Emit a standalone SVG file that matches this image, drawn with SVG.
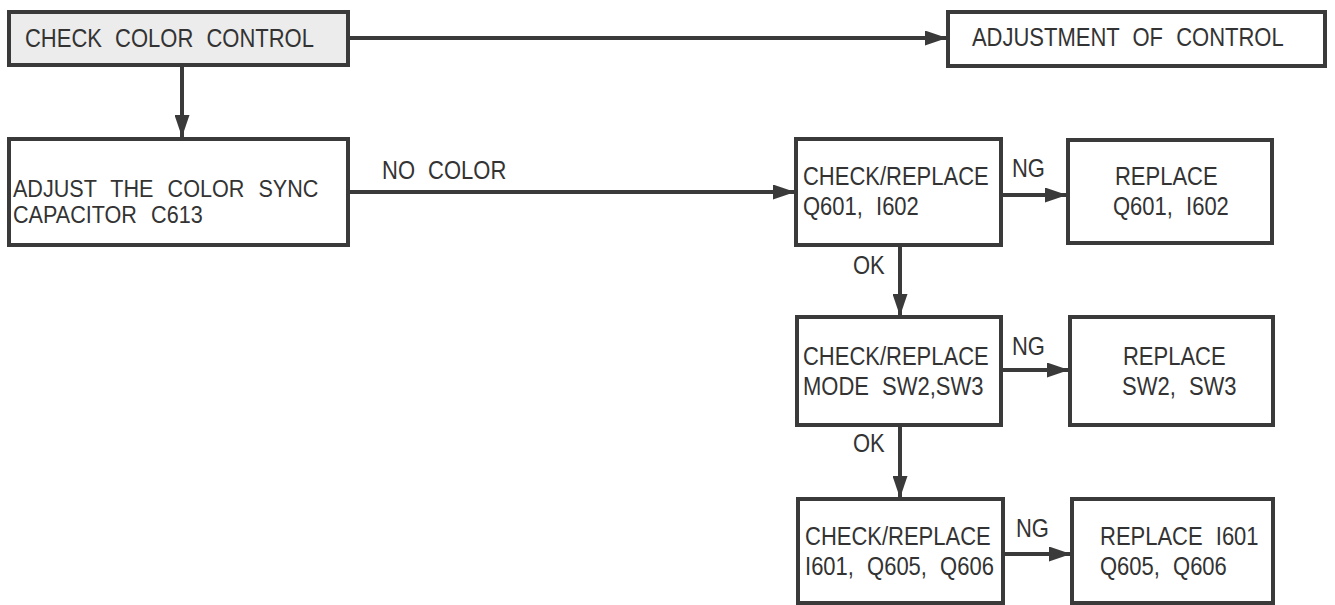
<svg xmlns="http://www.w3.org/2000/svg" width="1335" height="605" viewBox="0 0 1335 605">
<style>
.box{fill:#fff;stroke:#3a3a3a;stroke-width:4}
.t{font-family:"Liberation Sans",Arial,sans-serif;font-size:25px;fill:#333;word-spacing:8px}
.s{font-size:24px;word-spacing:9px}
.c{fill:none;stroke:#3a3a3a;stroke-width:4}
</style>
<defs>
<marker id="ah" viewBox="0 0 22 15" refX="22" refY="7.5" markerWidth="22" markerHeight="15" markerUnits="userSpaceOnUse" orient="auto">
<path d="M0,0 L22,7.5 L0,15 Z" fill="#3a3a3a"/>
</marker>
</defs>
<rect width="1335" height="605" fill="#fff"/>
<g id="connectors">
<line class="c" x1="348" y1="38" x2="947" y2="38" marker-end="url(#ah)"/>
<line class="c" x1="182" y1="65" x2="182" y2="137" marker-end="url(#ah)"/>
<line class="c" x1="348" y1="192" x2="795" y2="192" marker-end="url(#ah)"/>
<line class="c" x1="1001" y1="195" x2="1067" y2="195" marker-end="url(#ah)"/>
<line class="c" x1="900" y1="245" x2="900" y2="316" marker-end="url(#ah)"/>
<line class="c" x1="1001" y1="370" x2="1069" y2="370" marker-end="url(#ah)"/>
<line class="c" x1="900" y1="425" x2="900" y2="498" marker-end="url(#ah)"/>
<line class="c" x1="1003" y1="554" x2="1071" y2="554" marker-end="url(#ah)"/>
<g transform="scale(0.88,1)">
<text class="t" x="434.1" y="179">NO COLOR</text>
<text class="t" x="1150" y="177">NG</text>
<text class="t" x="969.3" y="274">OK</text>
<text class="t" x="1150" y="355">NG</text>
<text class="t" x="969.3" y="452">OK</text>
<text class="t" x="1154.5" y="537">NG</text>
</g>
</g>
<g id="check-color-control">
<rect class="box" x="9" y="12" width="339" height="53" style="fill:#ececec"/>
<text class="t" transform="scale(0.88,1)" x="28.4" y="47">CHECK COLOR CONTROL</text>
</g>
<g id="adjustment-of-control">
<rect class="box" x="948" y="12" width="377" height="54"/>
<text class="t" transform="scale(0.88,1)" x="1104.5" y="46">ADJUSTMENT OF CONTROL</text>
</g>
<g id="adjust-color-sync">
<rect class="box" x="9" y="139" width="339" height="106"/>
<text class="t s" transform="scale(0.9,1)" x="14.4" y="197">ADJUST THE COLOR SYNC</text>
<text class="t s" transform="scale(0.9,1)" x="14.4" y="223">CAPACITOR C613</text>
</g>
<g id="check-q601">
<rect class="box" x="796" y="139" width="205" height="106"/>
<text class="t" transform="scale(0.88,1)" x="912.5" y="185">CHECK/REPLACE</text>
<text class="t" transform="scale(0.88,1)" x="912.5" y="215">Q601, I602</text>
</g>
<g id="replace-q601">
<rect class="box" x="1068" y="140" width="204" height="103"/>
<text class="t" transform="scale(0.88,1)" x="1267" y="185">REPLACE</text>
<text class="t" transform="scale(0.88,1)" x="1264.8" y="215">Q601, I602</text>
</g>
<g id="check-mode">
<rect class="box" x="797" y="317" width="204" height="108"/>
<text class="t" transform="scale(0.88,1)" x="912.5" y="365">CHECK/REPLACE</text>
<text class="t" transform="scale(0.88,1)" x="912.5" y="395">MODE SW2,SW3</text>
</g>
<g id="replace-sw">
<rect class="box" x="1070" y="317" width="203" height="108"/>
<text class="t" transform="scale(0.88,1)" x="1276.1" y="365">REPLACE</text>
<text class="t" transform="scale(0.88,1)" x="1275" y="395">SW2, SW3</text>
</g>
<g id="check-i601">
<rect class="box" x="798" y="499" width="205" height="104"/>
<text class="t" transform="scale(0.88,1)" x="914.8" y="545">CHECK/REPLACE</text>
<text class="t" transform="scale(0.88,1)" x="914.8" y="575">I601, Q605, Q606</text>
</g>
<g id="replace-i601">
<rect class="box" x="1072" y="499" width="201" height="104"/>
<text class="t" transform="scale(0.88,1)" x="1250" y="545">REPLACE I601</text>
<text class="t" transform="scale(0.88,1)" x="1250" y="575">Q605, Q606</text>
</g>
</svg>
